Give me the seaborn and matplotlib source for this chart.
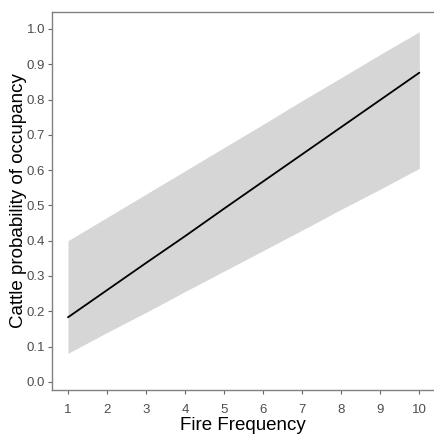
import matplotlib
matplotlib.use("Agg")
import matplotlib.pyplot as plt
import seaborn as sns
import pandas as pd

fire_freq = [1, 2, 3, 4, 5, 6, 7, 8, 9, 10]
occupancy = [0.183, 0.260, 0.337, 0.413, 0.491, 0.568, 0.645, 0.722, 0.799, 0.876]
lower_ci = [0.081, 0.140, 0.197, 0.256, 0.314, 0.372, 0.430, 0.489, 0.546, 0.605]
upper_ci = [0.400, 0.466, 0.532, 0.598, 0.664, 0.730, 0.797, 0.862, 0.928, 0.992]
x_ticks = [1, 2, 3, 4, 5, 6, 7, 8, 9, 10]
y_ticks = [0.0, 0.1, 0.2, 0.3, 0.4, 0.5, 0.6, 0.7, 0.8, 0.9, 1.0]

df = pd.DataFrame({"Fire Frequency": fire_freq, "occ": occupancy,
                   "lo": lower_ci, "hi": upper_ci})

sns.set_style("white")
plt.rcParams["font.family"] = ["Liberation Sans", "DejaVu Sans"]

fig = plt.figure(figsize=(4.35, 4.42), dpi=100)
ax = fig.add_axes([52/435, 52/442, (433-52)/435, (430-52)/442])

ax.fill_between(df["Fire Frequency"], df["lo"], df["hi"], color="#d6d6d6", linewidth=0)
sns.lineplot(data=df, x="Fire Frequency", y="occ", color="black", linewidth=1.3, ax=ax)

ax.set_xlim(0.59, 10.35)
ax.set_ylim(-0.023, 1.048)
ax.set_xticks(x_ticks)
ax.set_xticklabels([str(t) for t in x_ticks])
ax.set_yticks(y_ticks)
ax.set_yticklabels([f"{t:.1f}" for t in y_ticks])

ax.set_xlabel("Fire Frequency", fontsize=13.5, color="black", labelpad=1)
ax.set_ylabel("Cattle probability of occupancy", fontsize=13.5, color="black", labelpad=0)

ax.tick_params(axis="both", which="major", length=3, width=0.8, color="#666666",
               labelsize=9.5, labelcolor="#4d4d4d", direction="out")
ax.tick_params(axis="x", pad=7)
ax.tick_params(axis="y", pad=2)
ax.tick_params(bottom=True, left=True)

for s in ["left", "bottom", "top"]:
    ax.spines[s].set_visible(True)
    ax.spines[s].set_color("#808080")
    ax.spines[s].set_linewidth(1.0)
ax.spines["right"].set_visible(False)

fig.savefig("out.png", dpi=100)
